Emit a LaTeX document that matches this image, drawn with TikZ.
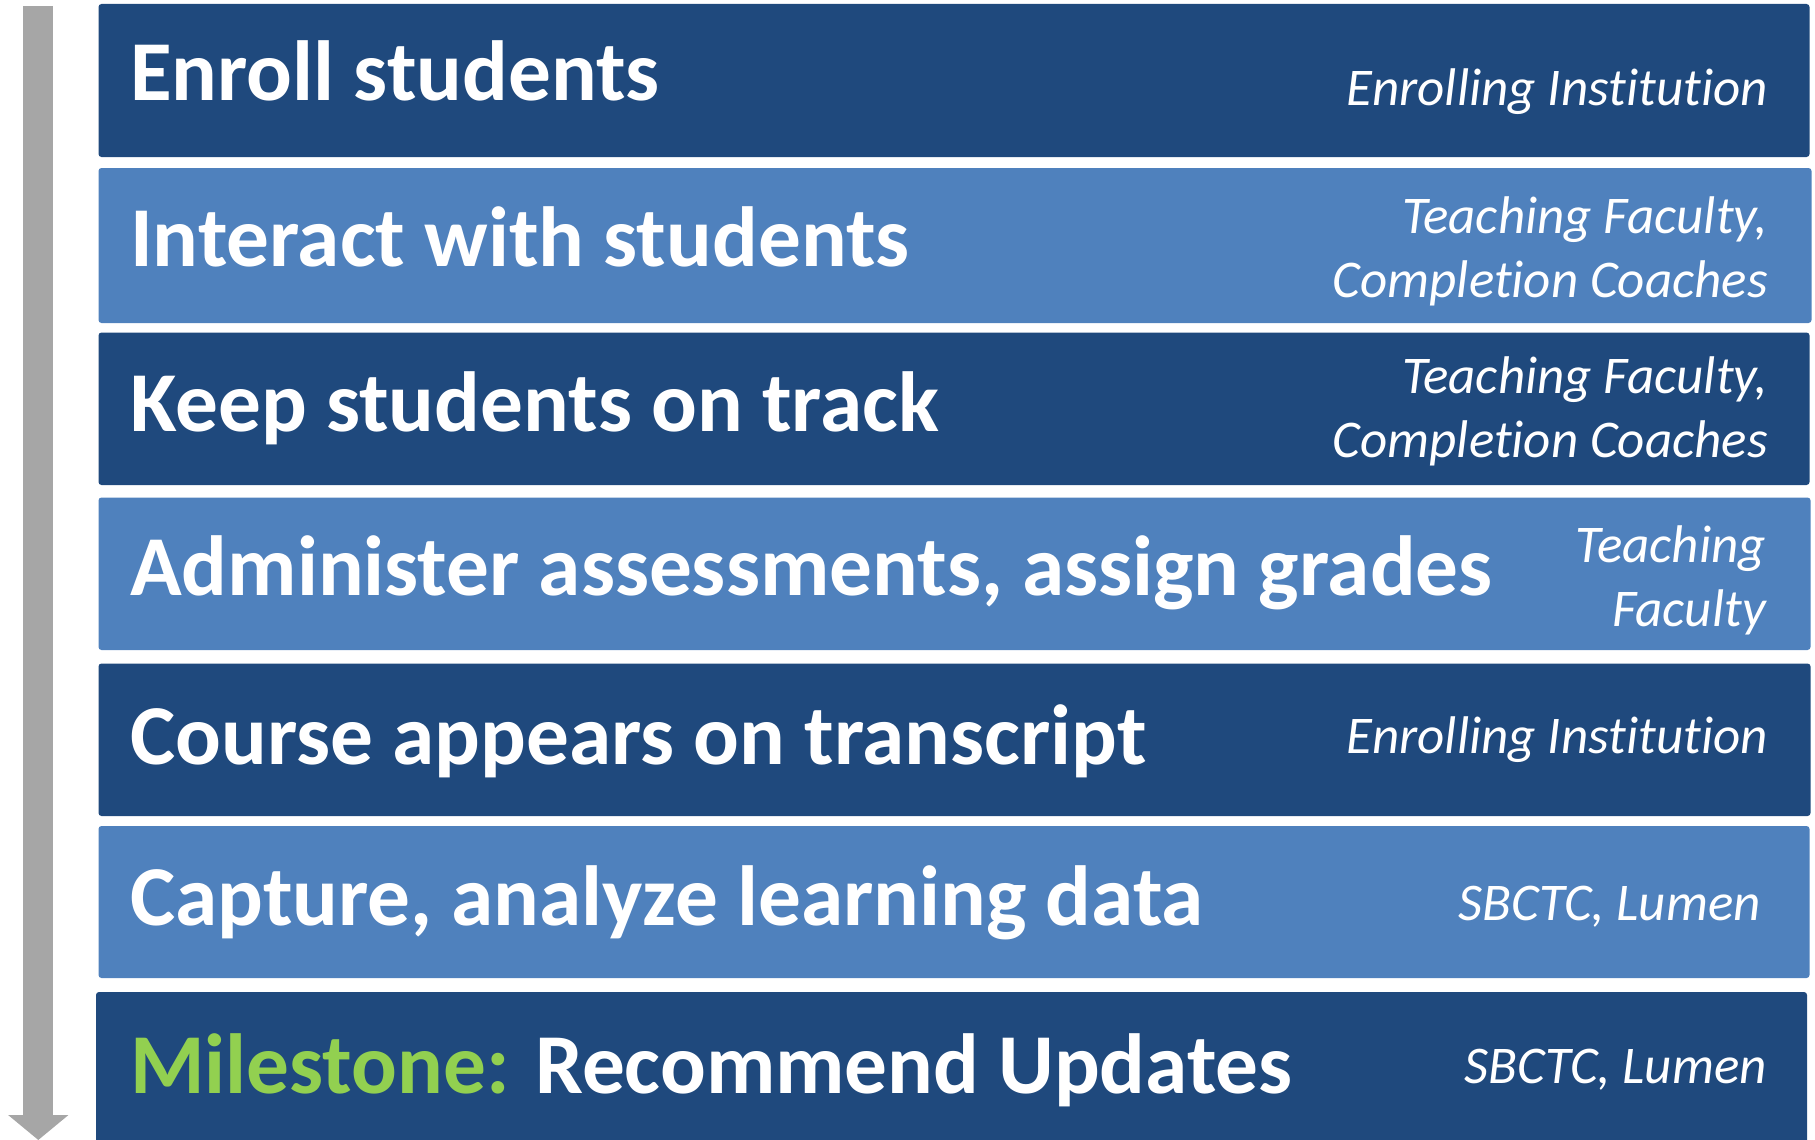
\documentclass[tikz,border=0pt]{standalone}
\usepackage{fontspec}
\setmainfont{Carlito}[Ligatures=NoCommon]
\usetikzlibrary{arrows.meta}
\definecolor{darkbar}{HTML}{1F497D}
\definecolor{lightbar}{HTML}{4F81BD}
\definecolor{flowgray}{HTML}{A6A6A6}
\definecolor{milegreen}{HTML}{92D050}
\begin{document}
\begin{tikzpicture}[x=1pt,y=-1pt,
  bar/.style={rectangle, rounded corners=3pt, inner sep=0pt, outer sep=0pt,
    anchor=north west},
  task/.style={anchor=base west, inner sep=0pt, text=white,
    font=\fontsize{85.3}{100}\selectfont\bfseries},
  who/.style={anchor=base east, inner sep=0pt, text=white, align=right,
    font=\fontsize{53}{63.5}\selectfont\itshape},
]
\useasboundingbox (0,0) rectangle (1815,1140);

% time axis on the left
\coordinate (flowtop) at (38.3,6);
\coordinate (flowend) at (38.3,1140);
\draw[flowgray, line width=30pt,
  -{Triangle[width=59pt,length=25pt]}] (flowtop) -- (flowend);

% stage bars
\node[bar, fill=darkbar,  minimum width=1711pt, minimum height=153pt]   (b1) at (98.5,4)     {};
\node[bar, fill=lightbar, minimum width=1713pt, minimum height=155pt]   (b2) at (98.5,168)   {};
\node[bar, fill=darkbar,  minimum width=1711pt, minimum height=152.5pt] (b3) at (98.5,332.5) {};
\node[bar, fill=lightbar, minimum width=1712pt, minimum height=152.5pt] (b4) at (98.5,497.5) {};
\node[bar, fill=darkbar,  minimum width=1712pt, minimum height=152.5pt] (b5) at (98.5,663.5) {};
\node[bar, fill=lightbar, minimum width=1711pt, minimum height=152pt]   (b6) at (98.5,826)   {};
\node[bar, fill=darkbar,  minimum width=1711pt, minimum height=156pt]   (b7) at (96,992)     {};

% stage names
\node[task] (t1) at (130,100)   {Enroll students};
\node[task] (t2) at (130,266.7) {Interact with students};
\node[task] (t3) at (130,431.7) {Keep students on track};
\node[task] (t4) at (130,595)   {Administer assessments, assign grades};
\node[task] (t5) at (130,764)   {Course appears on transcript};
\node[task] (t6) at (130,925)   {Capture, analyze learning data};
\node[task] (t7) at (130,1093)  {\textcolor{milegreen}{Milestone:} Recommend Updates};

% responsible parties (two-line labels sit on their last baseline)
\node[who] (w1) at (1768,106) {Enrolling Institution};
\node[who] (w2) at (1768,297) {Teaching Faculty,\\Completion Coaches};
\node[who] (w3) at (1768,457) {Teaching Faculty,\\Completion Coaches};
\node[who] (w4) at (1766,626) {Teaching\\Faculty};
\node[who] (w5) at (1768,753) {Enrolling Institution};
\node[who] (w6) at (1761,920) {SBCTC, Lumen};
\node[who] (w7) at (1767,1083) {SBCTC, Lumen};
\end{tikzpicture}
\end{document}
